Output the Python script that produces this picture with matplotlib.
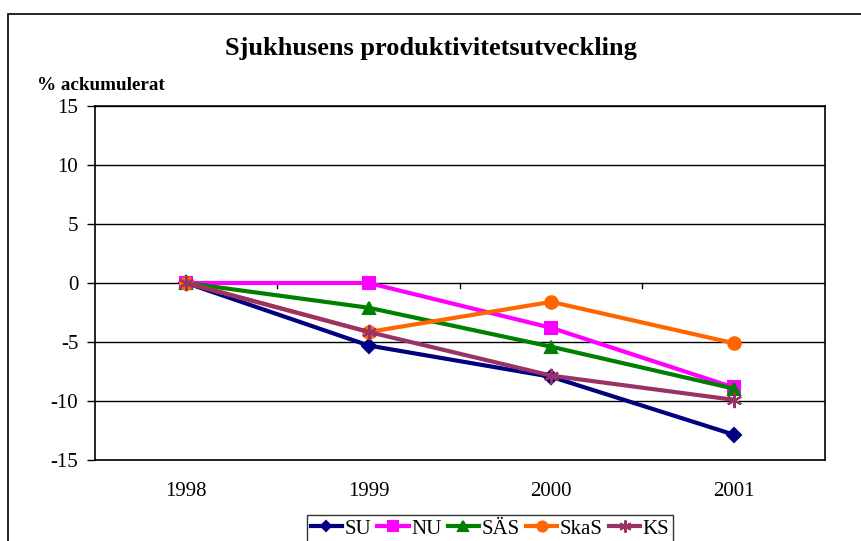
import matplotlib.pyplot as plt
from matplotlib.patches import Rectangle

years = ['1998', '1999', '2000', '2001']
su = [0, -5.3, -7.95, -12.85]
nu = [0, 0, -3.8, -8.85]
sas = [0, -2.1, -5.4, -8.95]
skas = [0, -4.15, -1.6, -5.1]
ks = [0, -4.15, -7.85, -9.9]

series = [
    ('SU', su, '#000080', 'D', 7),
    ('NU', nu, '#ff00ff', 's', 9),
    ('SÄS', sas, '#008000', '^', 9),
    ('SkaS', skas, '#ff6600', 'o', 9),
    ('KS', ks, '#993366', (6, 2, 0), 11),
]

plt.rcParams['font.family'] = ['Liberation Serif', 'DejaVu Serif']

fig = plt.figure(figsize=(8.62, 5.41), dpi=100)
ax = fig.add_axes([95 / 862, 1 - 460 / 541, 730 / 862, 354 / 541])

# outer chart frame
fig.patches.append(Rectangle((8 / 862, -0.1), 1.2, 1 - 14 / 541 + 0.1,
                             transform=fig.transFigure, fill=False,
                             edgecolor='black', linewidth=1.2))

x = list(range(len(years)))
for name, vals, color, marker, ms in series:
    ax.plot(x, vals, color=color, linewidth=3, marker=marker, markersize=ms,
            markeredgecolor=color, markeredgewidth=1.5, label=name, zorder=3)

ax.set_xlim(-0.5, 3.5)
ax.set_ylim(-15, 15)
ax.set_yticks(range(-15, 16, 5))
ax.set_yticklabels([str(v) for v in range(-15, 16, 5)])
ax.yaxis.grid(True, color='black', linewidth=1)
ax.set_axisbelow(True)
ax.tick_params(axis='y', direction='out', length=6, width=1, labelsize=15, pad=6)

ax.set_xticks(x)
ax.set_xticklabels(years)
ax.tick_params(axis='x', length=0, labelsize=15, pad=16)

# category separator ticks on the zero line
for b in [0.5, 1.5, 2.5]:
    ax.plot([b, b], [0, -0.45], color='black', linewidth=1, zorder=2)

for s in ax.spines.values():
    s.set_color('black')
    s.set_linewidth(1.2)

fig.text(0.5, 1 - 49 / 541, 'Sjukhusens produktivitetsutveckling', ha='center',
         va='center', fontsize=19, fontweight='bold')
fig.text(37 / 862, 1 - 85 / 541, '% ackumulerat', ha='left', va='center',
         fontsize=13.8, fontweight='bold')

leg = fig.legend(loc='upper center', bbox_to_anchor=(490 / 862, 1 - 515 / 541),
                 ncol=5, frameon=True, fancybox=False, fontsize=15,
                 handlelength=1.5, handletextpad=0.12, columnspacing=0.3,
                 borderpad=0.2, borderaxespad=0, markerscale=0.8,
                 edgecolor='black')
leg.get_frame().set_linewidth(1)

fig.savefig('out.png', dpi=100)
